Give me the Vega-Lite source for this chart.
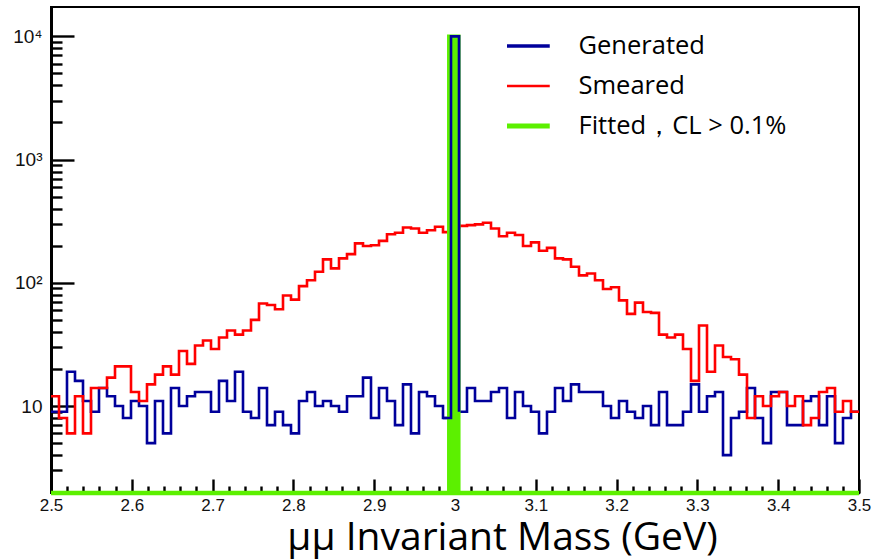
{
  "$schema": "https://vega.github.io/schema/vega-lite/v6.json",
  "width": 808,
  "height": 486,
  "autosize": {"type": "none"},
  "padding": {"left": 51, "top": 7, "right": 23, "bottom": 66},
  "background": "white",
  "config": {
    "view": {"stroke": "#000", "strokeWidth": 2},
    "axis": {"grid": false, "tickColor": "#000", "tickWidth": 2.4, "domainColor": "#000", "labelColor": "#111", "labelFont": "Liberation Sans", "tickCap": "butt"}
  },
  "datasets": {
    "hist": [
      {"x": 2.5, "gen": 9, "sm": 12},
      {"x": 2.5099, "gen": 9, "sm": 8},
      {"x": 2.5198, "gen": 19, "sm": 6},
      {"x": 2.5297, "gen": 16, "sm": 12},
      {"x": 2.5396, "gen": 11, "sm": 6},
      {"x": 2.5495, "gen": 9, "sm": 14},
      {"x": 2.55941, "gen": 14, "sm": 14},
      {"x": 2.56931, "gen": 12, "sm": 17},
      {"x": 2.57921, "gen": 10, "sm": 21},
      {"x": 2.58911, "gen": 8, "sm": 21},
      {"x": 2.59901, "gen": 11, "sm": 13},
      {"x": 2.60891, "gen": 10, "sm": 11},
      {"x": 2.61881, "gen": 5, "sm": 15},
      {"x": 2.62871, "gen": 11, "sm": 18},
      {"x": 2.63861, "gen": 6, "sm": 21},
      {"x": 2.64851, "gen": 14, "sm": 18},
      {"x": 2.65842, "gen": 10, "sm": 28},
      {"x": 2.66832, "gen": 12, "sm": 22},
      {"x": 2.67822, "gen": 13, "sm": 31},
      {"x": 2.68812, "gen": 13, "sm": 34},
      {"x": 2.69802, "gen": 9, "sm": 29},
      {"x": 2.70792, "gen": 16, "sm": 36},
      {"x": 2.71782, "gen": 11, "sm": 41},
      {"x": 2.72772, "gen": 19, "sm": 38},
      {"x": 2.73762, "gen": 9, "sm": 41},
      {"x": 2.74752, "gen": 8, "sm": 50},
      {"x": 2.75743, "gen": 14, "sm": 68},
      {"x": 2.76733, "gen": 7, "sm": 66},
      {"x": 2.77723, "gen": 9, "sm": 61},
      {"x": 2.78713, "gen": 7, "sm": 79},
      {"x": 2.79703, "gen": 6, "sm": 73},
      {"x": 2.80693, "gen": 11, "sm": 94},
      {"x": 2.81683, "gen": 13, "sm": 105},
      {"x": 2.82673, "gen": 10, "sm": 123},
      {"x": 2.83663, "gen": 11, "sm": 155},
      {"x": 2.84653, "gen": 10, "sm": 131},
      {"x": 2.85644, "gen": 9, "sm": 158},
      {"x": 2.86634, "gen": 12, "sm": 171},
      {"x": 2.87624, "gen": 12, "sm": 209},
      {"x": 2.88614, "gen": 17, "sm": 199},
      {"x": 2.89604, "gen": 8, "sm": 202},
      {"x": 2.90594, "gen": 14, "sm": 219},
      {"x": 2.91584, "gen": 11, "sm": 248},
      {"x": 2.92574, "gen": 7, "sm": 255},
      {"x": 2.93564, "gen": 15, "sm": 281},
      {"x": 2.94554, "gen": 6, "sm": 276},
      {"x": 2.95545, "gen": 13, "sm": 255},
      {"x": 2.96535, "gen": 12, "sm": 267},
      {"x": 2.97525, "gen": 10, "sm": 285},
      {"x": 2.98515, "gen": 8, "sm": 258},
      {"x": 2.99505, "gen": 10000, "sm": 280},
      {"x": 3.00495, "gen": 9, "sm": 290},
      {"x": 3.01485, "gen": 14, "sm": 294},
      {"x": 3.02475, "gen": 11, "sm": 298},
      {"x": 3.03465, "gen": 11, "sm": 307},
      {"x": 3.04455, "gen": 13, "sm": 276},
      {"x": 3.05446, "gen": 14, "sm": 239},
      {"x": 3.06436, "gen": 8, "sm": 255},
      {"x": 3.07426, "gen": 13, "sm": 244},
      {"x": 3.08416, "gen": 10, "sm": 199},
      {"x": 3.09406, "gen": 9, "sm": 213},
      {"x": 3.10396, "gen": 6, "sm": 182},
      {"x": 3.11386, "gen": 9, "sm": 192},
      {"x": 3.12376, "gen": 14, "sm": 158},
      {"x": 3.13366, "gen": 11, "sm": 155},
      {"x": 3.14356, "gen": 15, "sm": 135},
      {"x": 3.15347, "gen": 13, "sm": 115},
      {"x": 3.16337, "gen": 13, "sm": 119},
      {"x": 3.17327, "gen": 13, "sm": 105},
      {"x": 3.18317, "gen": 10, "sm": 89},
      {"x": 3.19307, "gen": 8, "sm": 92},
      {"x": 3.20297, "gen": 11, "sm": 72},
      {"x": 3.21287, "gen": 9, "sm": 56},
      {"x": 3.22277, "gen": 8, "sm": 69},
      {"x": 3.23267, "gen": 10, "sm": 58},
      {"x": 3.24257, "gen": 7, "sm": 57},
      {"x": 3.25248, "gen": 13, "sm": 38},
      {"x": 3.26238, "gen": 7, "sm": 36},
      {"x": 3.27228, "gen": 7, "sm": 38},
      {"x": 3.28218, "gen": 9, "sm": 29},
      {"x": 3.29208, "gen": 15, "sm": 16},
      {"x": 3.30198, "gen": 9, "sm": 45},
      {"x": 3.31188, "gen": 12, "sm": 19},
      {"x": 3.32178, "gen": 13, "sm": 31},
      {"x": 3.33168, "gen": 4, "sm": 25},
      {"x": 3.34158, "gen": 8, "sm": 24},
      {"x": 3.35149, "gen": 9, "sm": 18},
      {"x": 3.36139, "gen": 14, "sm": 8},
      {"x": 3.37129, "gen": 8, "sm": 12},
      {"x": 3.38119, "gen": 5, "sm": 10},
      {"x": 3.39109, "gen": 13, "sm": 12},
      {"x": 3.40099, "gen": 13, "sm": 13},
      {"x": 3.41089, "gen": 7, "sm": 10},
      {"x": 3.42079, "gen": 7, "sm": 12},
      {"x": 3.43069, "gen": 11, "sm": 7},
      {"x": 3.44059, "gen": 12, "sm": 8},
      {"x": 3.4505, "gen": 7, "sm": 13},
      {"x": 3.4604, "gen": 12, "sm": 14},
      {"x": 3.4703, "gen": 5, "sm": 9},
      {"x": 3.4802, "gen": 8, "sm": 11},
      {"x": 3.4901, "gen": 9, "sm": 9},
      {"x": 3.5, "gen": 9, "sm": 9}
    ],
    "fit": [{"lo": 2.9923, "hi": 3.0047, "n": 10000}]
  },
  "resolve": {"axis": {"x": "independent", "y": "independent"}},
  "layer": [
    {
      "data": {"name": "hist"},
      "mark": {"type": "line", "interpolate": "step-after", "strokeWidth": 2.6, "strokeJoin": "miter"},
      "encoding": {
        "x": {
          "field": "x", "type": "quantitative",
          "scale": {"domain": [2.5, 3.5], "nice": false, "zero": false},
          "axis": {
            "orient": "bottom",
            "values": [2.5, 2.6, 2.7, 2.8, 2.9, 3.0, 3.1, 3.2, 3.3, 3.4, 3.5],
            "format": "~g", "tickSize": -14, "labelPadding": 18, "labelFontSize": 17,
            "labelFlush": false, "domainWidth": 2,
            "title": "μμ Invariant Mass (GeV)", "titleFont": "Open Sans", "titleFontSize": 39,
            "titleFontWeight": "normal", "titleColor": "#000",
            "titleX": 451, "titleY": 56, "titleBaseline": "alphabetic", "titleAlign": "center"
          }
        },
        "y": {
          "field": "gen", "type": "quantitative",
          "scale": {"type": "log", "domain": [1.97, 17300], "nice": false},
          "axis": {
            "orient": "left", "values": [10, 100, 1000, 10000],
            "labelExpr": "datum.value == 10 ? '10' : datum.value == 100 ? '10²' : datum.value == 1000 ? '10³' : '10⁴'",
            "tickSize": -23, "labelPadding": 32, "labelFontSize": 19, "domainWidth": 3, "title": null
          }
        },
        "color": {
          "datum": "Generated", "type": "nominal",
          "scale": {"domain": ["Generated", "Smeared", "Fitted，CL > 0.1%"], "range": ["#00009b", "#ff0000", "#5cf000"]},
          "legend": {
            "orient": "none", "legendX": 456, "legendY": 19, "title": null,
            "symbolType": "stroke", "symbolSize": 3600,
            "symbolStrokeWidth": {"expr": "datum.label == 'Generated' ? 3.5 : datum.label == 'Smeared' ? 2.5 : 5"},
            "labelFont": "Open Sans", "labelFontSize": 25.5, "labelColor": "#000", "labelOffset": 46,
            "labelLimit": 400, "clipHeight": 40, "rowPadding": 0, "padding": 0
          }
        }
      }
    },
    {
      "data": {"name": "hist"},
      "mark": {"type": "line", "interpolate": "step-after", "strokeWidth": 2.6, "strokeJoin": "miter"},
      "encoding": {
        "x": {
          "field": "x", "type": "quantitative",
          "axis": {
            "orient": "bottom",
            "values": [2.52, 2.54, 2.56, 2.58, 2.62, 2.64, 2.66, 2.68, 2.72, 2.74, 2.76, 2.78, 2.82, 2.84, 2.86, 2.88, 2.92, 2.94, 2.96, 2.98, 3.02, 3.04, 3.06, 3.08, 3.12, 3.14, 3.16, 3.18, 3.22, 3.24, 3.26, 3.28, 3.32, 3.34, 3.36, 3.38, 3.42, 3.44, 3.46, 3.48],
            "labels": false, "domain": false, "tickSize": -7, "title": null
          }
        },
        "y": {
          "field": "sm", "type": "quantitative",
          "axis": {
            "orient": "left",
            "values": [2, 3, 4, 5, 6, 7, 8, 9, 20, 30, 40, 50, 60, 70, 80, 90, 200, 300, 400, 500, 600, 700, 800, 900, 2000, 3000, 4000, 5000, 6000, 7000, 8000, 9000],
            "labels": false, "domain": false, "tickSize": -11, "title": null
          }
        },
        "color": {"datum": "Smeared", "type": "nominal"}
      }
    },
    {
      "data": {"name": "fit"},
      "mark": {"type": "rect", "stroke": "#5cf000", "strokeWidth": 3.5},
      "encoding": {
        "x": {"field": "lo", "type": "quantitative", "axis": null},
        "x2": {"field": "hi"},
        "y": {"field": "n", "type": "quantitative", "axis": null},
        "y2": {"datum": 1.97},
        "color": {"datum": "Fitted，CL > 0.1%", "type": "nominal"}
      }
    },
    {
      "data": {"values": [{"lo": 2.5, "hi": 3.5, "n": 1.97}]},
      "mark": {"type": "rule", "strokeWidth": 4.5, "color": "#5cf000"},
      "encoding": {
        "x": {"field": "lo", "type": "quantitative", "axis": null},
        "x2": {"field": "hi"},
        "y": {"field": "n", "type": "quantitative", "axis": null}
      }
    },
    {
      "data": {"name": "hist"},
      "transform": [{"filter": "datum.x > 2.98 && datum.x < 3.01"}],
      "mark": {"type": "line", "interpolate": "step-after", "strokeWidth": 2.6, "strokeJoin": "miter"},
      "encoding": {
        "x": {"field": "x", "type": "quantitative", "axis": null},
        "y": {"field": "gen", "type": "quantitative", "axis": null},
        "color": {"datum": "Generated", "type": "nominal"}
      }
    }
  ]
}
